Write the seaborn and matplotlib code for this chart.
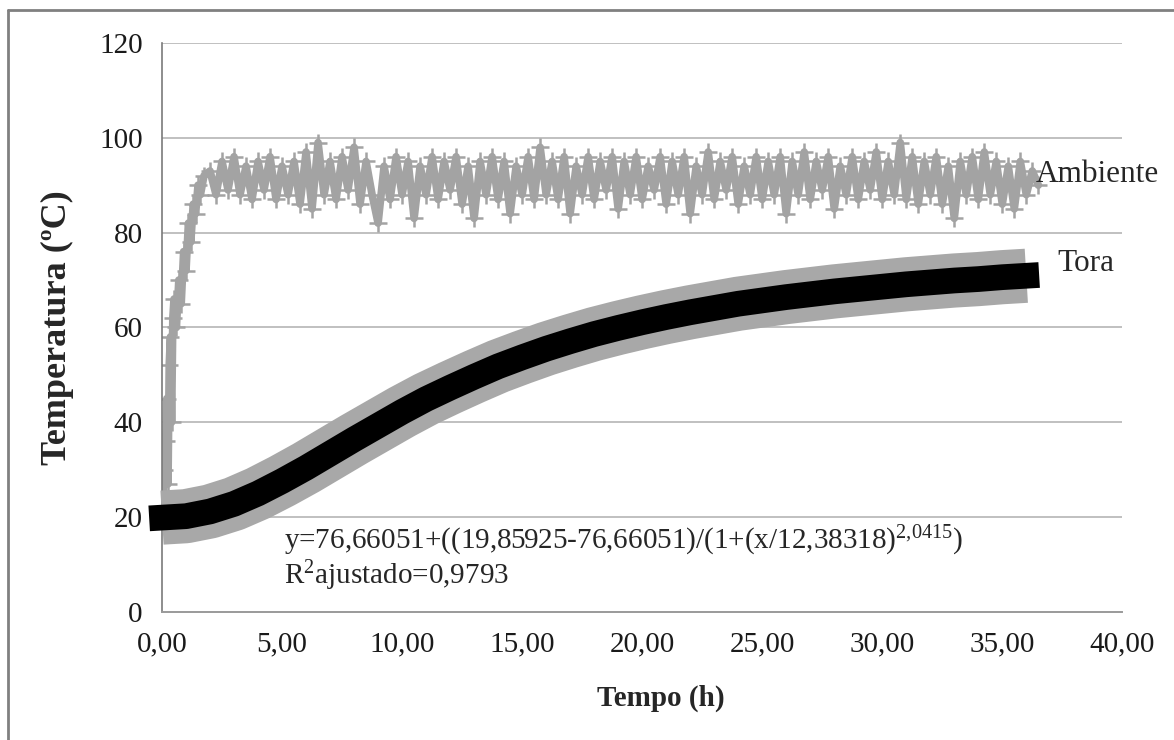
import numpy as np
import pandas as pd
import matplotlib
matplotlib.use("Agg")
import matplotlib.pyplot as plt
import seaborn as sns
from matplotlib.lines import Line2D

# ---------------- data ----------------
# Ambiente (air temperature), early rise at fine time steps
amb_time_early = [0.0, 0.05, 0.1, 0.15, 0.2, 0.25, 0.3, 0.35, 0.4, 0.45, 0.5,
                  0.6, 0.7, 0.8, 0.9, 1.0, 1.1, 1.2, 1.3, 1.4, 1.5, 1.6, 1.75]
amb_temp_early = [20, 24, 30, 36, 45, 27, 52, 58, 40, 62, 66,
                  60, 70, 65, 76, 72, 82, 78, 86, 84, 90, 88, 92]
# Ambiente plateau, every 0.25 h from 2.00 h
amb_temp_plateau = [
    93, 88, 95, 89, 96, 88, 94, 87, 95, 89, 96, 87, 94, 88, 95, 86, 97, 85, 99, 88,
    95, 87, 96, 89, 98, 86, 95, 88, 82, 94, 87, 96, 88, 95, 83, 94, 88, 96, 87, 95,
    89, 96, 86, 94, 83, 95, 88, 96, 87, 95, 84, 94, 88, 96, 87, 98, 88, 95, 87, 96,
    84, 94, 88, 96, 87, 95, 89, 96, 85, 95, 88, 96, 87, 94, 89, 96, 86, 95, 88, 96,
    84, 94, 88, 97, 87, 95, 89, 96, 86, 94, 88, 96, 87, 95, 88, 96, 84, 95, 88, 97,
    87, 95, 89, 96, 85, 94, 88, 96, 87, 95, 89, 97, 87, 95, 88, 99, 87, 96, 86, 95,
    88, 96, 86, 94, 83, 95, 88, 96, 87, 97, 88, 95, 86, 94, 85, 95, 88, 93, 90]
amb_time_plateau = list(2.0 + 0.25 * np.arange(len(amb_temp_plateau)))

# Tora (log temperature), hourly readings
tora_time = [0, 1, 2, 3, 4, 5, 6, 7, 8, 9, 10, 11, 12, 13, 14, 15, 16, 17, 18,
             19, 20, 21, 22, 23, 24, 25, 26, 27, 28, 29, 30, 31, 32, 33, 34, 35, 36]
tora_temp = [19.9, 20.2, 21.2, 22.8, 25.0, 27.6, 30.4, 33.4, 36.4, 39.3, 42.2, 44.9,
             47.3, 49.6, 51.8, 53.7, 55.5, 57.1, 58.6, 59.9, 61.1, 62.2, 63.2, 64.1,
             65.0, 65.7, 66.4, 67.0, 67.6, 68.1, 68.6, 69.1, 69.5, 69.9, 70.2, 70.6,
             70.9]

x_ticks = [0, 5, 10, 15, 20, 25, 30, 35, 40]
x_tick_labels = ["0,00", "5,00", "10,00", "15,00", "20,00", "25,00", "30,00", "35,00", "40,00"]
y_ticks = [0, 20, 40, 60, 80, 100, 120]

amb_df = pd.DataFrame({"Tempo": amb_time_early + amb_time_plateau,
                       "Temp": amb_temp_early + amb_temp_plateau})
tora_df = pd.DataFrame({"Tempo": tora_time, "Temp": tora_temp})

# ---------------- style ----------------
sns.set_theme(style="white")
plt.rcParams["font.family"] = ["Liberation Serif", "DejaVu Serif"]
plt.rcParams["mathtext.fontset"] = "custom"
plt.rcParams["mathtext.rm"] = "Liberation Serif"
plt.rcParams["mathtext.it"] = "Liberation Serif:italic"

fig = plt.figure(figsize=(11.74, 7.40), dpi=100)
ax = fig.add_axes([0.138, 0.173, 0.818, 0.769])

grid_c = "#b5b5b5"
for yv in y_ticks[1:]:
    ax.axhline(yv, color=grid_c, lw=1.2, zorder=0)

# Ambiente
sns.lineplot(data=amb_df, x="Tempo", y="Temp", ax=ax, color="#a3a3a3",
             lw=5.5, marker="+", markersize=13, markeredgewidth=1.8,
             markeredgecolor="#a3a3a3", estimator=None, sort=False, zorder=2)
# Tora observed (gray band) and fitted (black)
sns.lineplot(data=tora_df, x="Tempo", y="Temp", ax=ax, color="#a8a8a8",
             lw=39, estimator=None, solid_capstyle="butt", zorder=3, clip_on=False)
sns.lineplot(data=tora_df, x="Tempo", y="Temp", ax=ax, color="black",
             lw=18.5, estimator=None, solid_capstyle="projecting", zorder=4, clip_on=False)

ax.set_xlim(0, 40)
ax.set_ylim(0, 120)
ax.set_xticks(x_ticks)
ax.set_xticklabels(x_tick_labels)
ax.set_yticks(y_ticks)
ax.set_yticklabels([str(v) for v in y_ticks])
ax.tick_params(axis="both", labelsize=21, colors="#1a1a1a")
ax.tick_params(axis="x", direction="inout", length=8, width=1, color="#909090", pad=10)
ax.tick_params(axis="y", direction="out", length=8, width=1.2, color=grid_c, pad=6)
for s in ["top", "right"]:
    ax.spines[s].set_visible(False)
ax.spines["left"].set_color("#7a7a7a")
ax.spines["left"].set_linewidth(1.2)
ax.spines["bottom"].set_color("#9a9a9a")
ax.spines["bottom"].set_linewidth(1.4)
ax.set_xlabel("Tempo (h)", fontsize=21, fontweight="bold", va="center")
ax.xaxis.set_label_coords(0.519, -0.152)
ax.set_ylabel("Temperatura (ºC)", fontsize=26, fontweight="bold", va="center")
ax.yaxis.set_label_coords(-0.109, 0.5)

# labels
ax.text(36.4, 92.2, "Ambiente", fontsize=22.5, va="center", ha="left", clip_on=False)
ax.text(37.3, 73.5, "Tora", fontsize=22.5, va="center", ha="left", clip_on=False)
ax.text(5.1, 13.2,
        "y=76,66051+((19,85925-76,66051)/(1+(x/12,38318)$^{2{,}0415}$)",
        fontsize=21, va="baseline", ha="left", zorder=6)
ax.text(5.1, 5.8, "R$^{2}$ajustado=0,9793", fontsize=21, va="baseline", ha="left", zorder=6)

# outer frame
fig.add_artist(Line2D([8/1174, 8/1174], [0, 1 - 10/740], color="#808080", lw=2,
                      transform=fig.transFigure))
fig.add_artist(Line2D([8/1174, 1], [1 - 10/740, 1 - 10/740], color="#808080", lw=2,
                      transform=fig.transFigure))

fig.savefig("out.png", dpi=100)
